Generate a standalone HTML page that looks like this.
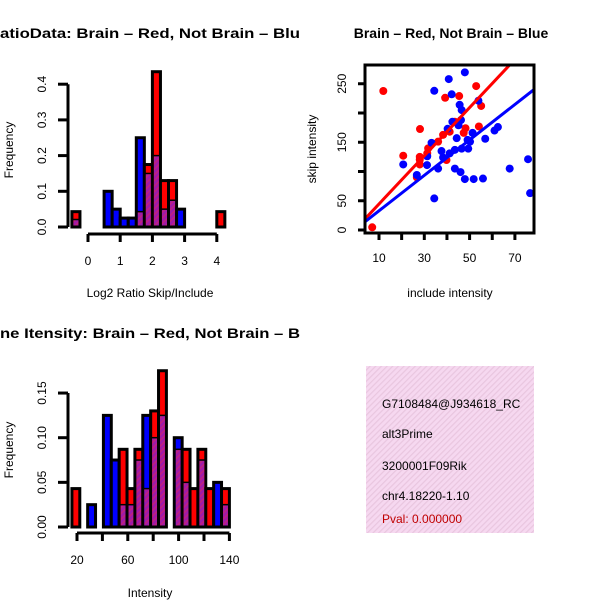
<!DOCTYPE html>
<html><head><meta charset="utf-8"><style>
html,body{margin:0;padding:0;background:#fff;}
svg{display:block;font-family:"Liberation Sans",sans-serif;}
</style></head><body>
<svg id="c" width="600" height="600" viewBox="0 0 600 600">
<defs>
<pattern id="hatch" width="4" height="4" patternUnits="userSpaceOnUse" patternTransform="rotate(45)">
<rect width="4" height="4" fill="#a01aa8"/><rect width="1.5" height="4" fill="#c02080"/></pattern>
<pattern id="pink" width="4" height="4" patternUnits="userSpaceOnUse" patternTransform="rotate(45)">
<rect width="4" height="4" fill="#f6d8f0"/><rect width="1.2" height="4" fill="#e9c6df"/></pattern>
<clipPath id="lclip"><rect x="0" y="0" width="300" height="600"/></clipPath>
<clipPath id="sclip"><rect x="366" y="66" width="167" height="166"/></clipPath>
</defs>
<g id="h1"></g>
<g id="h2"></g>
<g id="sc"></g>
<g>
<rect x="366" y="366" width="168" height="167" fill="url(#pink)"/>
<text x="382" y="408" font-size="12">G7108484@J934618_RC</text>
<text x="382" y="438" font-size="12">alt3Prime</text>
<text x="382" y="470" font-size="12">3200001F09Rik</text>
<text x="382" y="500" font-size="12">chr4.18220-1.10</text>
<text x="382" y="523" font-size="12" fill="#c00000">Pval: 0.000000</text>
</g>
<rect x="534" y="366" width="66" height="170" fill="#fff"/>
</svg>
<script>
// ---- Ratio histogram data ----
const ratioBinStart = -0.5;
const ratioBinWidth = 0.25;
const ratioRed  = [0.043,0,0,0,0,0,0,0,0.043,0.175,0.435,0.13,0.13,0,0,0,0,0,0.043];
const ratioBlue = [0.021,0,0,0,0.1,0.05,0.025,0.025,0.25,0.15,0.2,0.05,0.075,0.05,0,0,0,0,0];
const ratioXTicks = [0,1,2,3,4];
const ratioYTicks = ["0.0","0.1","0.2","0.3","0.4"];
// ---- Intensity histogram data ----
const intBinStart = 16;
const intBinWidth = 6.2;
const intRed  = [0.043,0,0,0,0,0,0.087,0.043,0.087,0.043,0.13,0.175,0,0.087,0.087,0.043,0.087,0.043,0,0.043];
const intBlue = [0,0,0.025,0,0.125,0.075,0.025,0.025,0.075,0.125,0.1,0.125,0,0.1,0.05,0,0.075,0,0.05,0.025];
const intXTicks = [20,40,60,80,100,120,140];
const intXLabels = ["20","","60","","100","","140"];
const intYTicks = ["0.00","0.05","0.10","0.15"];
// ---- Scatter data ----
const redX = [7,11.9,28.1,20.7,28,28,28,26.7,31.7,36.1,38.3,39.8,39.2,45.4,41.2,48.2,47.4,52.9,55.1,54.1,43.5,31.3];
const redY = [4.6,237.6,172.6,127,125,120,112,90,139.6,151,162.7,119.6,226,229,168,174,166,246,212,177,185,131];
const blueX = [47.9,40.8,34.4,42.1,45.6,46.5,53.9,42.4,45.1,40.3,46.2,51.3,49.1,44.3,33.2,56.9,61,62.5,20.7,31.3,31.2,36.1,37.6,38.3,41.2,43.5,46.5,49.4,43.5,46,47.9,51.8,55.9,26.7,34.4,67.7,75.8,76.7,50.2];
const blueY = [269.5,258,238,232,214,205,221,185,179,173,188,166,154,157,149,156,170,176,112,126,111,105,135,124,131,137,139,139,105,99,87,87,88,94,54,105,121,63,151];
const redFit = [3.3,4.12];   // intercept, slope
const blueFit = [2.5,3.03];
const scXTicks = [10,20,30,40,50,60,70];
const scXLabels = ["10","","30","","50","","70"];
const scYTicks = [0,50,100,150,200,250];
const scYLabels = ["0","50","","150","","250"];

const NS="http://www.w3.org/2000/svg";
function mk(parent,tag,attrs,text){const e=document.createElementNS(NS,tag);for(const k in attrs)e.setAttribute(k,attrs[k]);if(text!==undefined)e.textContent=text;parent.appendChild(e);return e;}

function histogram(g,binStart,binW,red,blue,xs,ys){
  red.forEach((r,i)=>{
    const b=blue[i]; if(r===0&&b===0)return;
    const x0=xs(binStart+i*binW), x1=xs(binStart+(i+1)*binW);
    const top=Math.max(r,b), low=Math.min(r,b);
    const bar=mk(g,'rect',{x:x0,y:ys(top),width:x1-x0,height:ys(0)-ys(top),fill:r>=b?'#ff0000':'#0000ff',stroke:'#000','stroke-width':3});
    
    
    if(low>0){
      const ov=mk(g,'rect',{x:x0+1.5,y:ys(low),width:x1-x0-3,height:ys(0)-ys(low)-1.5,fill:'url(#hatch)'});
      
      
      mk(g,'line',{x1:x0,x2:x1,y1:ys(low),y2:ys(low),stroke:'#000','stroke-width':1.5});
    }
  });
  return g;
}

// ---- Ratio histogram ----
(function(){
  const g=document.getElementById('h1');
  const xs=v=>88+(v-0)*32.2, ys=v=>227-v*357;
  histogram(g,ratioBinStart,ratioBinWidth,ratioRed,ratioBlue,xs,ys);
  mk(g,'line',{x1:68,x2:68,y1:ys(0),y2:ys(0.4),stroke:'#000','stroke-width':3});
  ratioYTicks.forEach((t,i)=>{const y=ys(i*0.1);mk(g,'line',{x1:58,x2:68,y1:y,y2:y,stroke:'#000','stroke-width':3});
    const l=mk(g,'text',{x:46,y:y,'font-size':12,'text-anchor':'middle',transform:`rotate(-90 46 ${y})`},t);
    
    });
  mk(g,'line',{x1:xs(0),x2:xs(4),y1:234,y2:234,stroke:'#000','stroke-width':3});
  ratioXTicks.forEach(t=>{const x=xs(t);mk(g,'line',{x1:x,x2:x,y1:234,y2:242,stroke:'#000','stroke-width':3});
    const l=mk(g,'text',{x:x,y:265,'font-size':12,'text-anchor':'middle'},String(t));
    
    });
  const xt=mk(g,'text',{x:150,y:297,'font-size':12,'text-anchor':'middle'},'Log2 Ratio Skip/Include');
  
  
  const yt=mk(g,'text',{x:13,y:150,'font-size':12,'text-anchor':'middle',transform:'rotate(-90 13 150)'},'Frequency');
  
  
  const tt=mk(g,'text',{x:0,y:38,'font-size':14,'font-weight':'bold',textLength:300,lengthAdjust:'spacingAndGlyphs','clip-path':'url(#lclip)'},'atioData: Brain – Red, Not Brain – Blu');
  
  
})();

// ---- Intensity histogram ----
(function(){
  const g=document.getElementById('h2');
  const xs=v=>77+(v-20)*1.27, ys=v=>527-v*893;
  histogram(g,intBinStart,intBinWidth,intRed,intBlue,xs,ys);
  mk(g,'line',{x1:68,x2:68,y1:ys(0),y2:ys(0.15),stroke:'#000','stroke-width':3});
  intYTicks.forEach((t,i)=>{const y=ys(i*0.05);mk(g,'line',{x1:58,x2:68,y1:y,y2:y,stroke:'#000','stroke-width':3});
    const l=mk(g,'text',{x:46,y:y,'font-size':12,'text-anchor':'middle',transform:`rotate(-90 46 ${y})`},t);
    
    });
  mk(g,'line',{x1:xs(20),x2:xs(140),y1:533,y2:533,stroke:'#000','stroke-width':3});
  intXTicks.forEach((t,i)=>{const x=xs(t);mk(g,'line',{x1:x,x2:x,y1:533,y2:541,stroke:'#000','stroke-width':3});
    if(intXLabels[i]){const l=mk(g,'text',{x:x,y:564,'font-size':12,'text-anchor':'middle'},intXLabels[i]);
    
    }});
  const xt=mk(g,'text',{x:150,y:597,'font-size':12,'text-anchor':'middle'},'Intensity');
  
  
  const yt=mk(g,'text',{x:13,y:450,'font-size':12,'text-anchor':'middle',transform:'rotate(-90 13 450)'},'Frequency');
  
  
  const tt=mk(g,'text',{x:0,y:338,'font-size':14,'font-weight':'bold',textLength:300,lengthAdjust:'spacingAndGlyphs','clip-path':'url(#lclip)'},'ne Itensity: Brain – Red, Not Brain – B');
  
  
})();

// ---- Scatter ----
(function(){
  const g=document.getElementById('sc');
  const xs=v=>379+(v-10)*2.265, ys=v=>230-v*0.585;
  const pts=mk(g,'g',{'clip-path':'url(#sclip)'});
  redX.forEach((x,i)=>{const c=mk(pts,'circle',{cx:xs(x),cy:ys(redY[i]),r:4,fill:'#ff0000'});
    
    });
  blueX.forEach((x,i)=>{const c=mk(pts,'circle',{cx:xs(x),cy:ys(blueY[i]),r:4,fill:'#0000ff'});
    
    });
  const x0=3.8,x1=78.5;
  const rl=mk(pts,'line',{x1:xs(x0),y1:ys(redFit[0]+redFit[1]*x0),x2:xs(x1),y2:ys(redFit[0]+redFit[1]*x1),stroke:'#ff0000','stroke-width':3});
  
  
  const bl=mk(pts,'line',{x1:xs(x0),y1:ys(blueFit[0]+blueFit[1]*x0),x2:xs(x1),y2:ys(blueFit[0]+blueFit[1]*x1),stroke:'#0000ff','stroke-width':3});
  
  
  mk(g,'rect',{x:365,y:65,width:169,height:168,fill:'none',stroke:'#000','stroke-width':3});
  scYTicks.forEach((t,i)=>{const y=ys(t);mk(g,'line',{x1:358,x2:365,y1:y,y2:y,stroke:'#000','stroke-width':3});
    if(scYLabels[i]){const l=mk(g,'text',{x:346,y:y,'font-size':12,'text-anchor':'middle',transform:`rotate(-90 346 ${y})`},scYLabels[i]);
    
    }});
  scXTicks.forEach((t,i)=>{const x=xs(t);mk(g,'line',{x1:x,x2:x,y1:233,y2:240,stroke:'#000','stroke-width':3});
    if(scXLabels[i]){const l=mk(g,'text',{x:x,y:262,'font-size':12,'text-anchor':'middle'},scXLabels[i]);
    
    }});
  const xt=mk(g,'text',{x:450,y:297,'font-size':12,'text-anchor':'middle'},'include intensity');
  
  
  const yt=mk(g,'text',{x:316,y:149,'font-size':12,'text-anchor':'middle',transform:'rotate(-90 316 149)'},'skip intensity');
  
  
  const tt=mk(g,'text',{x:451,y:38,'font-size':14,'font-weight':'bold','text-anchor':'middle'},'Brain – Red, Not Brain – Blue');
  
  
})();
</script>
</body></html>
